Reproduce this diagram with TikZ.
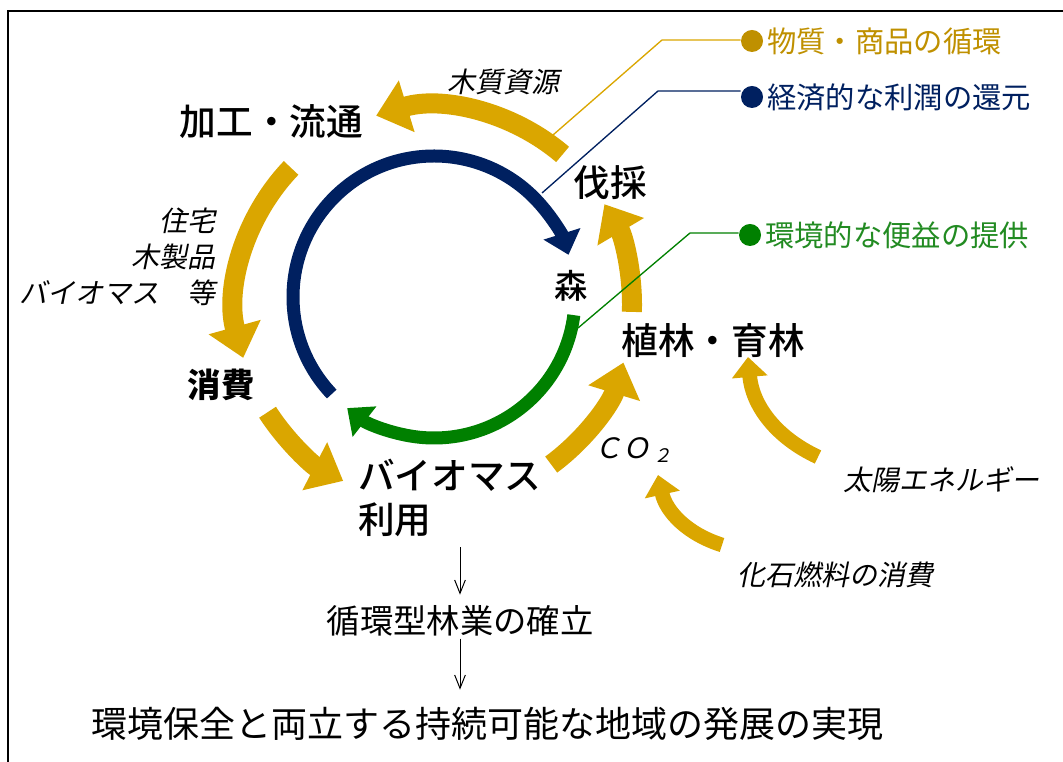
\documentclass[tikz,border=0pt]{standalone}
\usepackage{fontspec}
\setmainfont{Noto Sans CJK JP}
\newfontfamily\medjp{Noto Sans CJK JP}[UprightFont={* Medium}]
\newfontfamily\slantjp[FakeSlant=0.2]{Noto Sans CJK JP}
\usetikzlibrary{arrows.meta}
\definecolor{gold}{RGB}{218,166,0}
\definecolor{goldtext}{RGB}{191,144,0}
\definecolor{navy}{RGB}{0,32,96}
\definecolor{leaf}{RGB}{0,128,0}
\definecolor{leaftext}{RGB}{34,139,34}

\begin{document}
\begin{tikzpicture}[x=0.75pt,y=0.75pt,
  mainlabel/.style={font=\medjp\fontsize{27.5}{33}\selectfont,inner sep=0pt},
  itlabel/.style={font=\slantjp\fontsize{21}{27}\selectfont,inner sep=0pt},
  flowlabel/.style={font=\fontsize{25}{30}\selectfont,inner sep=0pt},
  legendtext/.style={font=\fontsize{22}{26}\selectfont,inner sep=0pt,anchor=west},
  legenddot/.style={circle,inner sep=0pt,minimum size=16.5pt},
  goldarrow/.style={gold,line width=15pt,-{Triangle[length=24pt,width=39pt]}},
  smallgold/.style={gold,line width=11pt,-{Triangle[length=15pt,width=26pt]}},
  ecoarrow/.style={navy,line width=9.75pt,-{Triangle[length=16.5pt,width=28pt]}},
  envarrow/.style={leaf,line width=9.75pt,-{Triangle[length=16.5pt,width=28pt]}},
  leader/.style={line width=1pt},
  flowarrow/.style={line width=0.75pt,-{Straight Barb[length=10pt,width=8pt]}}]
\useasboundingbox (0,0) rectangle (1063,762);
\draw[line width=1.5pt] (8,0) -- (8,751) -- (1063,751);

\path (271.5,640) node[mainlabel](kakou){加工・流通}
 (610,579) node[mainlabel](bassai){伐採}
 (571,476) node[mainlabel,font=\medjp\fontsize{25}{28}\selectfont](mori){森}
 (713,421) node[mainlabel](shokurin){植林・育林}
 (221,377) node[mainlabel,font=\bfseries\fontsize{25}{30}\selectfont](shouhi){消費}
 (358,264) node[mainlabel,anchor=west,align=left](bio){バイオマス\\利用}
 (503,680) node[itlabel](mokushitsu){木質資源}
 (216,505) node[itlabel,anchor=east,align=right](seihin){住宅\\木製品\\バイオマス　等}
 (633,312) node[itlabel](co2){ＣＯ\kern2pt\raisebox{-3pt}{\fontsize{14}{14}\selectfont ２}}
 (941,282) node[itlabel](taiyou){太陽エネルギー}
 (835,187) node[itlabel](kaseki){化石燃料の消費}
 (460,141) node[flowlabel](junkan){循環型林業の確立}
 (487,38) node[flowlabel,font=\fontsize{27}{32}\selectfont](goal){環境保全と両立する持続可能な地域の発展の実現};

\path (752,721) node[legenddot,fill=goldtext](dotMat){}
 (767,721) node[legendtext,text=goldtext](keyMat){物質・商品の循環}
 (752,665) node[legenddot,fill=navy](dotEco){}
 (767,665) node[legendtext,text=navy](keyEco){経済的な利潤の還元}
 (750,527) node[legenddot,fill=leaf](dotEnv){}
 (765,527) node[legendtext,text=leaftext](keyEnv){環境的な便益の提供};

\coordinate (core) at (434,465);
\coordinate (ring) at (434,457);
\draw[ecoarrow] ([shift={(223.5:141)}]core) arc[start angle=223.5,end angle=17.4,radius=141];
\draw[envarrow] ([shift={(-7.4:141)}]core) arc[start angle=-7.4,end angle=-128,radius=141];

\draw[goldarrow] ([shift={(49.5:198)}]ring) arc[start angle=49.5,end angle=107,radius=198];
\draw[goldarrow] ([shift={(136.2:198)}]ring) arc[start angle=136.2,end angle=195.5,radius=198];
\draw[goldarrow] ([shift={(212.8:198)}]ring) arc[start angle=212.8,end angle=242.7,radius=198];
\draw[goldarrow] ([shift={(-53.7:198)}]ring) arc[start angle=-53.7,end angle=-16.9,radius=198];
\draw[goldarrow] ([shift={(-2:198)}]ring) arc[start angle=-2,end angle=30.6,radius=198];

\coordinate (sunFrom) at (818,305);
\coordinate (sunTo) at (748,405);
\coordinate (fossilFrom) at (722,217);
\coordinate (fossilTo) at (658,287);
\draw[smallgold] (sunFrom) to[bend left=30] (sunTo);
\draw[smallgold] (fossilFrom) to[bend left=30] (fossilTo);

\coordinate (matFrom) at (553,627);
\coordinate (matBend) at (662,722);
\coordinate (ecoFrom) at (542,569);
\coordinate (ecoBend) at (658,671);
\coordinate (envFrom) at (578,434);
\coordinate (envBend) at (690,529);
\draw[leader,gold] (matFrom) -- (matBend) -- (matBend -| dotMat.west);
\draw[leader,navy] (ecoFrom) -- (ecoBend) -- (ecoBend -| dotEco.west);
\draw[leader,leaf] (envFrom) -- (envBend) -- (envBend -| dotEnv.west);

\draw[flowarrow,shorten <=7.5pt,shorten >=8pt] (junkan.north |- bio.south) -- (junkan.north);
\draw[flowarrow,shorten <=1.5pt,shorten >=13pt] (junkan.south) -- (junkan.south |- goal.north);
\end{tikzpicture}
\end{document}
